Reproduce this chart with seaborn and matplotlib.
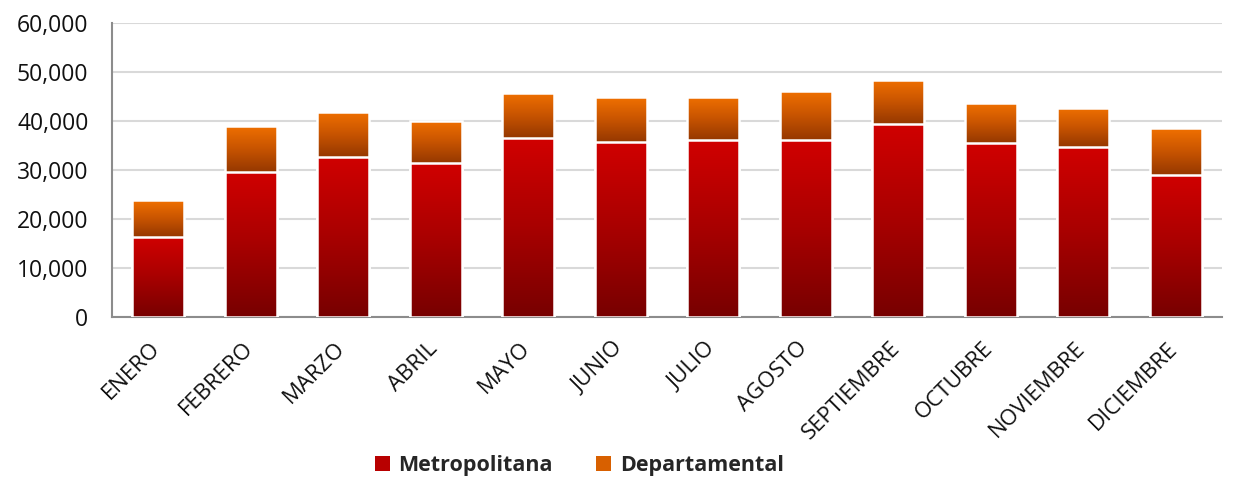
import numpy as np
import pandas as pd
import matplotlib
matplotlib.use("Agg")
import matplotlib.pyplot as plt
from matplotlib.colors import LinearSegmentedColormap
from matplotlib.patches import Rectangle
from matplotlib.ticker import FuncFormatter
from matplotlib.transforms import ScaledTranslation
import seaborn as sns

meses = ["ENERO", "FEBRERO", "MARZO", "ABRIL", "MAYO", "JUNIO", "JULIO",
         "AGOSTO", "SEPTIEMBRE", "OCTUBRE", "NOVIEMBRE", "DICIEMBRE"]
metropolitana = [16400, 29600, 32700, 31400, 36500, 35800, 36200, 36100, 39400, 35600, 34600, 29000]
departamental = [7500, 9400, 9200, 8700, 9200, 9100, 8800, 10000, 9000, 8000, 8100, 9500]
y_ticks = [0, 10000, 20000, 30000, 40000, 50000, 60000]

df = pd.DataFrame({"mes": meses, "Metropolitana": metropolitana,
                   "Departamental": departamental})
df["total"] = df["Metropolitana"] + df["Departamental"]

sns.set_theme(style="white")
plt.rcParams["font.family"] = ["Open Sans", "DejaVu Sans"]

fig = plt.figure(figsize=(12.38, 4.79), dpi=100)
ax = fig.add_axes([0.0905, 0.338, 0.8965, 0.614])

red_cmap = LinearSegmentedColormap.from_list("metro", ["#780000", "#a80000", "#d00000"])
orange_cmap = LinearSegmentedColormap.from_list("depto", ["#963800", "#c85400", "#f07000"])
grad = np.linspace(0, 1, 64).reshape(-1, 1)

# stacked bars: total first (upper segment), then the lower segment over it
sns.barplot(data=df, x="mes", y="total", color="#f07000", width=0.56,
            ax=ax, edgecolor="white", linewidth=1.8, zorder=3)
n_dep = len(ax.patches)
sns.barplot(data=df, x="mes", y="Metropolitana", color="#c00000", width=0.56,
            ax=ax, edgecolor="white", linewidth=1.8, zorder=5)

# gradient fills clipped to each bar segment
for i, p in enumerate(ax.patches):
    x0, w = p.get_x(), p.get_width()
    if i < n_dep:
        y0 = metropolitana[i]
        y1 = p.get_y() + p.get_height()
        cmap, z = orange_cmap, 2
    else:
        y0 = p.get_y()
        y1 = p.get_y() + p.get_height()
        cmap, z = red_cmap, 4
    # soft shadow behind the segment
    ax.add_patch(Rectangle((x0 + 0.012, y0 - 250), w, y1 - y0, facecolor="#bbbbbb",
                           edgecolor="none", alpha=0.35, zorder=1.5))
    im = ax.imshow(grad, cmap=cmap, origin="lower", aspect="auto",
                   extent=[x0, x0 + w, y0, y1], zorder=z,
                   interpolation="bilinear", interpolation_stage="rgba")
    im.set_clip_path(p)
    p.set_facecolor("none")

ax.set_xlim(-0.5, len(meses) - 0.5)
ax.set_ylim(0, 60000)
ax.set_yticks(y_ticks)
ax.yaxis.set_major_formatter(FuncFormatter(lambda v, _: f"{int(v):,}"))
ax.grid(axis="y", color="#d9d9d9", linewidth=1.5, zorder=0)
ax.set_axisbelow(True)

for side in ["top", "right"]:
    ax.spines[side].set_visible(False)
for side in ["left", "bottom"]:
    ax.spines[side].set_color("#8c8c8c")
    ax.spines[side].set_linewidth(1.5)

ax.set_xlabel("")
ax.set_ylabel("")
ax.tick_params(axis="y", labelsize=16.5, colors="#111111", length=0, pad=17)
ax.tick_params(axis="x", labelsize=16, colors="#111111", length=0, pad=15)
shift = ScaledTranslation(-6 / 72, 0, fig.dpi_scale_trans)
for lab in ax.get_xticklabels():
    lab.set_rotation(45)
    lab.set_ha("right")
    lab.set_rotation_mode("anchor")
    lab.set_transform(lab.get_transform() + shift)

handles = [Rectangle((0, 0), 1, 1, facecolor="#b80000", edgecolor="none"),
           Rectangle((0, 0), 1, 1, facecolor="#d86000", edgecolor="none")]
fig.legend(handles, ["Metropolitana", "Departamental"], loc="center",
           bbox_to_anchor=(0.468, 0.028), ncol=2, frameon=False,
           prop={"weight": "bold", "size": 15.5}, handlelength=0.7,
           handleheight=0.7, handletextpad=0.4, columnspacing=2.0)

fig.savefig("out.png", dpi=100, facecolor="white")
